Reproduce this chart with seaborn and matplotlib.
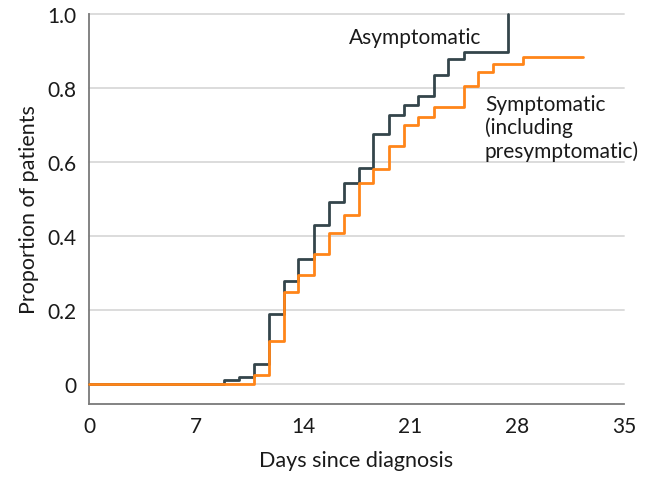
import matplotlib
matplotlib.use("Agg")
import matplotlib.pyplot as plt
import numpy as np
import pandas as pd
import seaborn as sns

# Cumulative proportion of patients, step values (time in days since diagnosis)
asym_days = [0, 8.8, 9.8, 10.8, 11.75, 12.75, 13.7, 14.7, 15.7, 16.65, 17.65,
             18.6, 19.6, 20.6, 21.55, 22.55, 23.5, 24.5, 27.4]
asym_prop = [0, 0.010, 0.020, 0.053, 0.190, 0.279, 0.337, 0.430, 0.493, 0.543, 0.583,
             0.675, 0.726, 0.753, 0.778, 0.834, 0.879, 0.896, 1.0]

sym_days = [0, 10.8, 11.75, 12.75, 13.7, 14.7, 15.7, 16.65, 17.65, 18.6, 19.6,
            20.6, 21.55, 22.55, 24.5, 25.45, 26.45, 28.4, 32.3]
sym_prop = [0, 0.025, 0.117, 0.249, 0.295, 0.352, 0.409, 0.458, 0.543, 0.581, 0.644,
            0.700, 0.721, 0.750, 0.805, 0.842, 0.864, 0.884, 0.884]

group_names = ["Asymptomatic", "Symptomatic"]
x_ticks = [0, 7, 14, 21, 28, 35]
y_ticks = [0, 0.2, 0.4, 0.6, 0.8, 1.0]
y_ticklabels = ["0", "0.2", "0.4", "0.6", "0.8", "1.0"]

df = pd.concat([
    pd.DataFrame({"day": asym_days, "prop": asym_prop, "group": group_names[0]}),
    pd.DataFrame({"day": sym_days, "prop": sym_prop, "group": group_names[1]}),
])

sns.set_style("white")
plt.rcParams["font.family"] = ["Lato", "DejaVu Sans"]

fig = plt.figure(figsize=(6.51, 4.81), dpi=100)
ax = fig.add_axes([89 / 651, 76 / 481, 535 / 651, 390 / 481])

grid_color = "#dcdcdc"
for yv in y_ticks:
    ax.axhline(yv, color=grid_color, lw=1.4, zorder=0, clip_on=False)

palette = {"Asymptomatic": "#34454b", "Symptomatic": "#ff8519"}
sns.lineplot(data=df, x="day", y="prop", hue="group", hue_order=group_names,
             palette=palette, drawstyle="steps-post", lw=2.0, estimator=None,
             sort=True, legend=False, ax=ax, clip_on=False, zorder=3)

ax.set_xlim(0, 35)
ax.set_ylim(-0.054, 1.0)
ax.set_xticks(x_ticks)
ax.set_xticklabels([str(t) for t in x_ticks])
ax.set_yticks(y_ticks)
ax.set_yticklabels(y_ticklabels)

for s in ["top", "right"]:
    ax.spines[s].set_visible(False)
for s in ["left", "bottom"]:
    ax.spines[s].set_color("#7a7a7a")
    ax.spines[s].set_linewidth(1.3)
ax.tick_params(axis="both", direction="out", length=5, width=1.2, color="#7a7a7a",
               labelsize=15, labelcolor="#1a1a1a", pad=4)
ax.tick_params(axis="x", pad=4)

ax.set_xlabel("Days since diagnosis", fontsize=15.5, color="#1a1a1a", labelpad=10)
ax.set_ylabel("Proportion of patients", fontsize=15.5, color="#1a1a1a", labelpad=6)

ax.text(17.0, 0.938, "Asymptomatic", fontsize=15, color="#1a1a1a",
        ha="left", va="center")
ax.text(25.9, 0.785, "Symptomatic\n(including\npresymptomatic)", fontsize=15,
        color="#1a1a1a", ha="left", va="top", linespacing=1.2)

fig.savefig("out.png", dpi=100)
